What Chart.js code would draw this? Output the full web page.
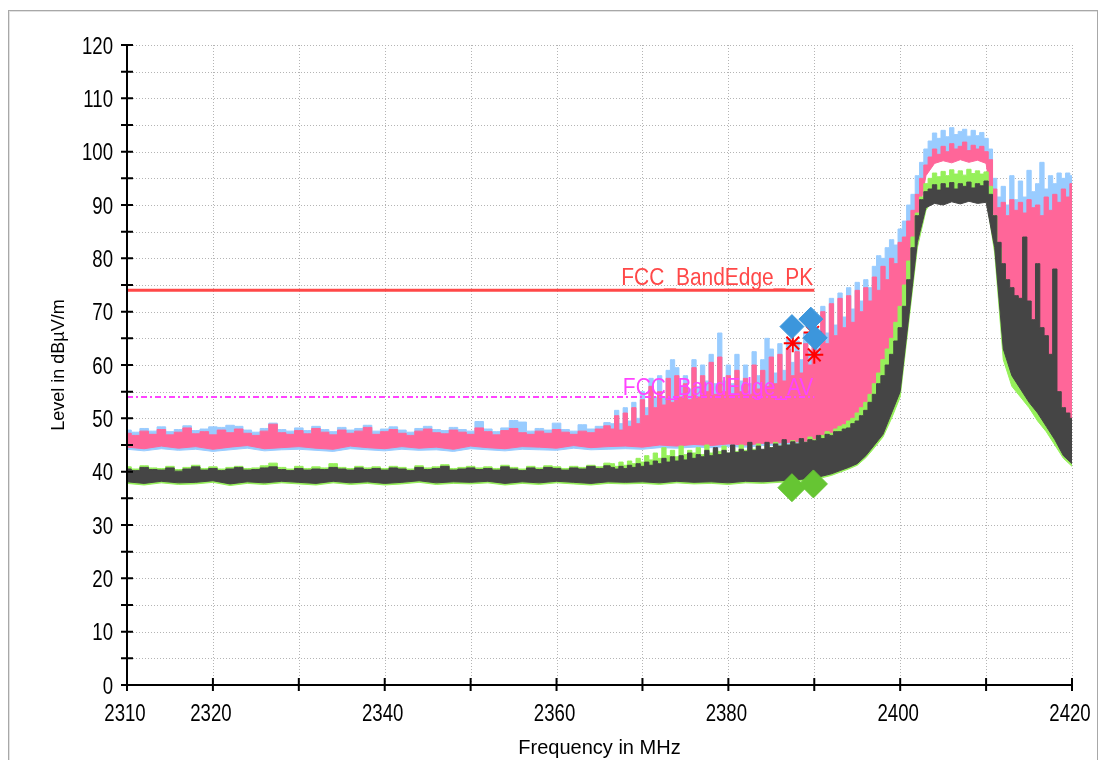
<!DOCTYPE html>
<html>
<head>
<meta charset="utf-8">
<title>Band edge scan</title>
<script src="https://cdn.jsdelivr.net/npm/chart.js@4.4.1/dist/chart.umd.min.js"></script>
<style>
  html, body { margin: 0; padding: 0; background: #fff; }
  #wrap { position: relative; width: 1105px; height: 760px; overflow: hidden; }
  #panel { position: absolute; left: 8px; top: 10px; width: 1088px; height: 770px; border: 1px solid #a8a8a8; box-shadow: inset 1px 1px 0 #e2e2e2; }
  #plot { position: absolute; left: 0; top: 0; }
</style>
</head>
<body>
<div id="wrap">
  <div id="panel"></div>
  <canvas id="plot" width="1105" height="760"></canvas>
</div>
<script>
// sample grids in MHz: 1 MHz over the quiet part, 0.5 MHz near the band edge
function grid(start, stop, step) {
  const out = [];
  for (let f = start; f <= stop + 1e-9; f += step) out.push(+f.toFixed(1));
  return out;
}
const FREQ_TOP = grid(2310, 2366, 1).concat(grid(2366.5, 2420, 0.5));
const FREQ_BOT = grid(2310, 2390, 2).concat(grid(2391, 2420, 1));

// axis ranges and labels
const X_MIN = 2310, X_MAX = 2420, X_STEP = 10;
const Y_MIN = 0, Y_MAX = 120, Y_STEP = 10, Y_MINOR = 5;
const X_LABELS = [2310, 2320, 2340, 2360, 2380, 2400, 2420];

// upper envelopes (dBuV/m) on FREQ_TOP
const BLUE_TOP = [
  47.8, 47.4, 48.1, 47.6, 48.4, 47.5, 47.9, 48.6, 47.7, 48.0,
  48.4, 48.3, 48.7, 48.5, 47.8, 47.4, 48.1, 49.1, 47.9, 47.6,
  48.2, 47.7, 48.5, 47.9, 47.5, 48.3, 47.8, 48.1, 48.7, 47.6,
  48.0, 48.4, 47.8, 47.4, 48.1, 48.5, 47.9, 47.7, 48.3, 47.9,
  47.6, 49.4, 48.0, 47.5, 48.2, 49.6, 49.3, 47.6, 48.1, 47.8,
  49.1, 47.9, 47.6, 48.8, 48.0, 48.5, 49.2,
  49.0, 51.5, 49.0, 52.0, 49.5, 53.0, 50.0, 55.0, 52.0, 57.5,
  54.0, 58.0, 54.0, 59.0, 61.0, 59.5, 56.0, 58.0, 55.5, 61.0,
  56.0, 60.0, 57.0, 62.0, 56.5, 66.0, 57.0, 60.0, 56.5, 62.0,
  57.0, 60.0, 56.5, 62.5, 58.0, 61.0, 65.0, 63.0, 58.5, 64.0,
  59.0, 65.0, 60.5, 64.5, 61.0, 66.0, 62.5, 68.0, 64.0, 71.0,
  66.0, 72.5, 67.5, 73.5, 69.0, 74.5, 70.5, 75.5, 72.0, 76.0,
  74.5, 78.5, 80.5, 80.0, 82.0, 83.5, 82.5, 85.5, 87.0, 90.0,
  92.0, 95.5, 98.0, 100.5, 102.0, 103.5, 102.5, 104.0, 102.8, 104.5,
  103.2, 103.8, 104.2, 102.9, 104.0, 103.0, 103.6, 102.5, 100.5, 95.0,
  91.5, 93.5, 90.0, 95.5, 91.0, 94.5, 91.5, 96.5, 92.5, 94.0,
  98.0, 93.0, 95.5, 94.0, 96.0, 95.0, 96.0, 95.5
];
const PINK_TOP = [
  47.2, 46.8, 47.6, 47.0, 47.9, 46.9, 47.4, 48.2, 47.1, 47.5,
  46.9, 47.8, 47.3, 48.0, 47.2, 46.8, 47.6, 48.9, 47.3, 47.0,
  47.7, 47.1, 48.1, 47.4, 46.9, 47.8, 47.2, 47.6, 48.3, 47.0,
  47.5, 47.9, 47.2, 46.8, 47.6, 48.0, 47.3, 47.1, 47.8, 47.4,
  47.0, 48.2, 47.5, 46.9, 47.7, 48.1, 47.3, 47.0, 47.6, 47.2,
  47.9, 47.4, 47.0, 47.6, 47.3, 48.0, 48.6,
  48.0, 50.5, 47.8, 51.0, 48.5, 52.0, 49.0, 53.5, 50.5, 56.0,
  52.0, 55.0, 52.5, 57.5, 53.0, 58.0, 54.0, 56.5, 53.5, 59.5,
  54.0, 58.0, 55.0, 60.5, 54.5, 61.5, 55.0, 58.0, 54.5, 59.0,
  55.0, 57.5, 54.5, 60.0, 55.5, 59.0, 56.0, 61.5, 56.5, 62.0,
  57.0, 63.0, 58.0, 62.5, 58.5, 64.0, 60.0, 66.5, 62.0, 70.0,
  64.0, 71.5, 65.5, 72.5, 67.0, 73.0, 68.0, 74.0, 70.0, 74.5,
  72.0, 76.5, 74.0, 78.5, 76.0, 80.0, 79.0, 83.0, 84.0, 87.0,
  89.0, 92.0, 95.0, 97.5, 99.0, 100.5, 99.5, 101.0, 100.0, 101.5,
  100.5, 101.0, 101.8, 100.2, 101.2, 100.5, 101.0, 100.0, 98.5, 93.0,
  89.5, 90.5, 88.0, 91.0, 89.0, 90.5, 88.5, 91.0, 89.5, 90.0,
  88.0, 91.5, 89.0, 92.0, 90.5, 93.0, 91.5, 94.0
];
const GREEN_TOP = [
  40.9, 40.5, 41.1, 40.7, 40.6, 41.0, 40.4, 40.8, 41.2, 40.6,
  40.9, 40.5, 40.8, 41.0, 40.6, 40.7, 41.1, 41.6, 40.8, 40.5,
  41.0, 40.6, 40.9, 40.7, 41.5, 40.8, 40.6, 41.0, 40.7, 40.9,
  40.6, 41.0, 40.8, 40.5, 41.1, 40.7, 40.9, 41.3, 40.6, 40.8,
  41.0, 40.7, 40.9, 40.6, 41.2, 40.8, 40.5, 41.0, 40.7, 41.1,
  40.9, 40.6, 41.0, 40.8, 41.2, 40.9, 41.6,
  41.5, 41.0, 41.8, 41.2, 42.0, 41.5, 42.5, 41.8, 43.0, 42.2,
  43.5, 42.5, 44.5, 43.0, 44.0, 42.8, 44.8, 43.2, 44.0, 43.5,
  44.5, 43.2, 45.0, 43.5, 44.2, 43.8, 44.8, 43.5, 44.5, 43.8,
  45.0, 44.0, 44.6, 44.2, 45.2, 44.0, 45.0, 44.5, 45.5, 44.8,
  45.3, 45.0, 45.8, 45.2, 46.0, 45.5, 46.5, 46.0, 46.5, 46.8,
  47.5, 47.2, 48.0, 48.5, 48.8, 49.5, 50.0, 51.0, 52.0, 53.0,
  54.5, 56.5, 58.5, 61.0, 63.0, 65.0, 68.0, 71.0, 75.0, 79.5,
  84.0, 88.5, 91.5, 94.0, 95.0, 96.0, 95.3, 96.3, 95.5, 96.6,
  95.8, 96.4, 95.6, 96.7, 95.9, 96.4, 95.8, 96.2, 93.5, 88.0,
  82.0, 77.0, 73.0, 71.0, 69.0, 68.0, 66.0, 67.0, 64.0, 62.0,
  61.0, 60.0, 57.0, 55.0, 53.0, 51.0, 49.5, 48.0
];
const DARK_TOP = [
  40.5, 40.2, 40.8, 40.4, 40.3, 40.7, 40.1, 40.5, 40.9, 40.3,
  40.6, 40.2, 40.5, 40.8, 40.3, 40.4, 40.7, 40.9, 40.4, 40.2,
  40.6, 40.3, 40.5, 40.4, 40.8, 40.5, 40.3, 40.7, 40.4, 40.6,
  40.3, 40.7, 40.5, 40.2, 40.8, 40.4, 40.6, 41.0, 40.3, 40.5,
  40.7, 40.4, 40.6, 40.3, 40.9, 40.5, 40.2, 40.7, 40.4, 40.8,
  40.6, 40.3, 40.7, 40.5, 41.0, 40.6, 41.1,
  40.8, 40.5, 41.0, 40.6, 41.2, 40.8, 41.5, 41.0, 41.8, 41.2,
  42.0, 41.5, 42.5, 41.8, 42.8, 42.0, 43.0, 42.2, 43.5, 42.5,
  43.2, 42.8, 44.0, 43.0, 44.5, 43.2, 44.0, 43.5, 45.0, 43.6,
  44.2, 43.8, 45.5, 44.0, 44.8, 44.2, 45.5, 44.5, 45.2, 44.8,
  46.0, 45.0, 45.6, 45.2, 46.2, 45.5, 46.0, 45.8, 46.8, 46.2,
  47.0, 46.8, 47.5, 47.5, 48.0, 48.2, 49.0, 49.5, 50.5, 51.5,
  53.0, 54.5, 56.5, 58.0, 60.0, 62.0, 64.5, 67.0, 71.0, 76.0,
  82.0, 88.0, 91.0, 92.5, 93.0, 93.8, 92.8, 94.0, 93.2, 94.2,
  93.0, 94.0, 93.5, 94.3, 93.2, 94.0, 93.6, 94.5, 92.0, 88.0,
  83.0, 79.0, 76.0, 74.5, 73.0, 72.5, 84.0, 72.0, 68.5, 79.0,
  67.0, 65.5, 62.0, 78.0, 55.0, 52.0, 51.0, 50.0
];

// lower envelopes (dBuV/m) on FREQ_BOT
const BLUE_BOT = [
  44.2, 43.9, 44.3, 44.0, 44.2, 43.8, 44.1, 44.4, 43.9, 44.1,
  44.2, 44.0, 43.8, 44.3, 44.1, 43.9, 44.2, 44.0, 44.1, 43.8,
  44.3, 44.1, 43.9, 44.2, 44.1, 44.0, 44.4, 44.1, 44.2, 44.3,
  44.2, 44.5, 44.4, 44.6, 44.5, 44.7, 44.6, 44.9, 45.0, 45.2,
  45.4,
  46.5, 47.0, 47.5, 48.3, 49.5, 51.5, 54.0, 57.5, 61.5, 66.5,
  75.5, 87.5, 96.0, 98.3, 98.8, 98.4, 99.0, 98.5, 98.9, 98.3,
  87.5, 76.5, 72.5, 70.5, 68.5, 64.5, 60.5, 53.5, 50.5, 49.5
];
const PINK_BOT = [
  44.6, 44.3, 44.8, 44.4, 44.7, 44.2, 44.6, 44.9, 44.3, 44.5,
  44.7, 44.4, 44.2, 44.8, 44.5, 44.3, 44.7, 44.4, 44.6, 44.2,
  44.8, 44.5, 44.3, 44.7, 44.6, 44.4, 44.9, 44.5, 44.7, 44.8,
  44.6, 45.0, 44.8, 45.1, 44.9, 45.2, 45.0, 45.3, 45.4, 45.6,
  45.8,
  46.0, 46.5, 47.0, 47.8, 49.0, 51.0, 53.5, 57.0, 61.0, 66.0,
  75.0, 87.0, 95.5, 97.8, 98.3, 97.9, 98.5, 98.0, 98.4, 97.8,
  87.0, 76.0, 72.0, 70.0, 68.0, 64.0, 60.0, 53.0, 50.0, 49.0
];
const GREEN_BOT = [
  37.8, 37.5, 37.9, 37.6, 37.7, 38.0, 37.4, 37.8, 37.6, 37.9,
  37.7, 37.5, 37.9, 37.6, 37.8, 37.5, 37.7, 38.0, 37.6, 37.8,
  37.7, 37.9, 37.5, 37.8, 37.6, 37.9, 37.7, 37.5, 37.8, 37.7,
  37.8, 37.6, 37.9, 37.7, 37.8, 37.6, 37.9, 37.8, 38.0, 38.2,
  38.5,
  38.9, 39.3, 39.9, 40.5, 41.2, 42.6, 44.5, 46.5, 50.0, 54.0,
  68.0, 82.0, 89.0, 91.5, 91.2, 91.8, 91.4, 91.9, 91.5, 91.6,
  81.0, 61.0, 56.0, 54.0, 52.0, 49.5, 47.5, 45.0, 42.5, 41.0
];
const DARK_BOT = [
  38.1, 37.8, 38.2, 37.9, 38.0, 38.3, 37.7, 38.1, 37.9, 38.2,
  38.0, 37.8, 38.2, 37.9, 38.1, 37.8, 38.0, 38.3, 37.9, 38.1,
  38.0, 38.2, 37.8, 38.1, 37.9, 38.2, 38.0, 37.8, 38.1, 38.0,
  38.1, 37.9, 38.2, 38.0, 38.1, 37.9, 38.2, 38.1, 38.3, 38.5,
  38.8,
  39.2, 39.6, 40.2, 40.8, 41.5, 43.0, 45.0, 47.0, 51.0, 55.0,
  69.0, 83.0, 89.5, 90.3, 90.0, 90.6, 90.2, 90.7, 90.3, 90.5,
  82.0, 63.0, 58.0, 55.5, 53.0, 51.0, 48.5, 46.0, 43.0, 41.5
];

// markers
const PEAK_MARK_F = [2387.4, 2389.6, 2390.1];
const PEAK_MARK_V = [67.2, 68.6, 65.1];
const AVG_MARK_F = [2387.4, 2389.9];
const AVG_MARK_V = [37.0, 37.7];
const STAR_MARK_F = [2387.5, 2390.0, 2389.8];
const STAR_MARK_V = [64.1, 61.9, 66.1];

// limit lines
const LIMIT_NAMES = ['FCC_BandEdge_PK', 'FCC_BandEdge_AV'];
const LIMIT_LEVELS = [74, 54];
const LIMIT_START = 2310, LIMIT_STOP = 2390;

const COLORS = {
  blue: '#99ccff', pink: '#ff6699', green: '#96f05a', dark: '#454545',
  peak: '#3c96dc', avg: '#66c533', star: '#ff0000',
  pk: '#ff4848', av: '#ff44ff', axis: '#000000', grid: '#b4b4b4'
};
const LIMIT_STYLE = [
  { color: COLORS.pk, width: 3, dash: [], lift: 5 },
  { color: COLORS.av, width: 2, dash: [6, 3, 2, 3], lift: 2.5 }
];
const PLAIN = '"Liberation Sans", Arial, sans-serif';
const LABEL_FONT = '23px ' + PLAIN;
const TICK_SQUEEZE = 0.81;
const NAME_SQUEEZE = 0.91;

const pts = (fs, vs) => fs.map((f, i) => ({ x: f, y: vs[i] }));

// one trace drawn as the area between its upper and lower envelope
function band(color, freqTop, top, freqBot, bot) {
  const base = { borderColor: color, borderWidth: 1, pointRadius: 0, tension: 0 };
  return [
    Object.assign({ data: pts(freqTop, top), fill: false, stepped: 'middle' }, base),
    Object.assign({ data: pts(freqBot, bot), backgroundColor: color, fill: '-1' }, base)
  ];
}

function limitLine(i) {
  const s = LIMIT_STYLE[i];
  return {
    data: [{ x: LIMIT_START, y: LIMIT_LEVELS[i] }, { x: LIMIT_STOP, y: LIMIT_LEVELS[i] }],
    borderColor: s.color, borderWidth: s.width, borderDash: s.dash,
    pointRadius: 0, fill: false
  };
}

function markers(fs, vs, style, color, radius, width) {
  return {
    data: pts(fs, vs), showLine: false, pointStyle: style, pointRadius: radius,
    backgroundColor: color, borderColor: color, borderWidth: width
  };
}

// tall, condensed label text
function squeezed(ctx, text, x, y, align, k) {
  ctx.save();
  ctx.translate(x, y);
  ctx.scale(k, 1);
  ctx.textAlign = align;
  ctx.textBaseline = 'alphabetic';
  ctx.fillText(text, 0, 0);
  ctx.restore();
}

// grid, crossing tick marks, axis lines, tick labels and limit names
const frame = {
  id: 'frame',
  beforeDatasetsDraw(chart) {
    const { ctx, chartArea: a, scales: { x, y } } = chart;
    ctx.save();
    ctx.strokeStyle = COLORS.grid;
    ctx.lineWidth = 1;
    ctx.setLineDash([1, 2]);
    ctx.beginPath();
    for (let v = Y_MIN + Y_MINOR; v <= Y_MAX; v += Y_MINOR) {
      const py = Math.round(y.getPixelForValue(v)) + 0.5;
      ctx.moveTo(a.left, py); ctx.lineTo(a.right, py);
    }
    for (let f = X_MIN + X_STEP; f <= X_MAX; f += X_STEP) {
      const px = Math.round(x.getPixelForValue(f)) + 0.5;
      ctx.moveTo(px, a.top); ctx.lineTo(px, a.bottom);
    }
    ctx.stroke();
    ctx.restore();
  },
  afterDatasetsDraw(chart) {
    const { ctx, chartArea: a, scales: { x, y } } = chart;
    ctx.save();
    ctx.setLineDash([]);
    ctx.strokeStyle = COLORS.axis;
    ctx.lineWidth = 2;
    ctx.beginPath();
    ctx.moveTo(a.left, a.top); ctx.lineTo(a.left, a.bottom); ctx.lineTo(a.right, a.bottom);
    for (let v = Y_MIN; v <= Y_MAX; v += Y_MINOR) {
      const py = y.getPixelForValue(v);
      ctx.moveTo(a.left - 6, py); ctx.lineTo(a.left + 6, py);
    }
    for (let f = X_MIN; f <= X_MAX; f += X_STEP) {
      const px = x.getPixelForValue(f);
      ctx.moveTo(px, a.bottom - 7); ctx.lineTo(px, a.bottom + 6);
    }
    ctx.stroke();

    ctx.font = LABEL_FONT;
    ctx.fillStyle = COLORS.axis;
    for (let v = Y_MIN; v <= Y_MAX; v += Y_STEP) {
      squeezed(ctx, String(v), a.left - 14, y.getPixelForValue(v) + 8.5, 'right', TICK_SQUEEZE);
    }
    X_LABELS.forEach(f => {
      squeezed(ctx, String(f), x.getPixelForValue(f) - 2, a.bottom + 36, 'center', TICK_SQUEEZE);
    });

    LIMIT_NAMES.forEach((name, i) => {
      ctx.fillStyle = LIMIT_STYLE[i].color;
      squeezed(ctx, name, x.getPixelForValue(LIMIT_STOP) - 1,
        y.getPixelForValue(LIMIT_LEVELS[i]) - LIMIT_STYLE[i].lift, 'right', NAME_SQUEEZE);
    });
    ctx.restore();
  }
};

const datasets = [
  limitLine(0),
  limitLine(1),
  markers(PEAK_MARK_F, PEAK_MARK_V, 'rectRot', COLORS.peak, 12, 1),
  markers(AVG_MARK_F, AVG_MARK_V, 'rectRot', COLORS.avg, 14, 1),
  markers(STAR_MARK_F, STAR_MARK_V, 'star', COLORS.star, 9, 2),
  ...band(COLORS.dark, FREQ_TOP, DARK_TOP, FREQ_BOT, DARK_BOT),
  ...band(COLORS.green, FREQ_TOP, GREEN_TOP, FREQ_BOT, GREEN_BOT),
  ...band(COLORS.pink, FREQ_TOP, PINK_TOP, FREQ_BOT, PINK_BOT),
  ...band(COLORS.blue, FREQ_TOP, BLUE_TOP, FREQ_BOT, BLUE_BOT)
];

new Chart(document.getElementById('plot'), {
  type: 'line',
  data: { datasets },
  options: {
    responsive: false,
    animation: false,
    devicePixelRatio: 1,
    events: [],
    layout: { padding: { left: 0, top: 45, right: 33, bottom: 0 } },
    plugins: { legend: { display: false }, tooltip: { enabled: false } },
    scales: {
      x: {
        type: 'linear', min: X_MIN, max: X_MAX,
        grid: { display: false, drawTicks: false },
        border: { display: false },
        ticks: { stepSize: X_STEP, display: false },
        title: {
          display: true, text: 'Frequency in MHz', color: '#000',
          font: { family: PLAIN, size: 20 }, padding: { top: 0, bottom: 0 }
        },
        afterFit: s => { s.height = 75; }
      },
      y: {
        min: Y_MIN, max: Y_MAX,
        grid: { display: false, drawTicks: false },
        border: { display: false },
        ticks: { stepSize: Y_STEP, display: false },
        title: {
          display: true, text: 'Level in dBµV/m', color: '#000',
          font: { family: PLAIN, size: 18 }, padding: { top: 48, bottom: 0 }
        },
        afterFit: s => { s.width = 127; }
      }
    }
  },
  plugins: [frame]
});
</script>
</body>
</html>
